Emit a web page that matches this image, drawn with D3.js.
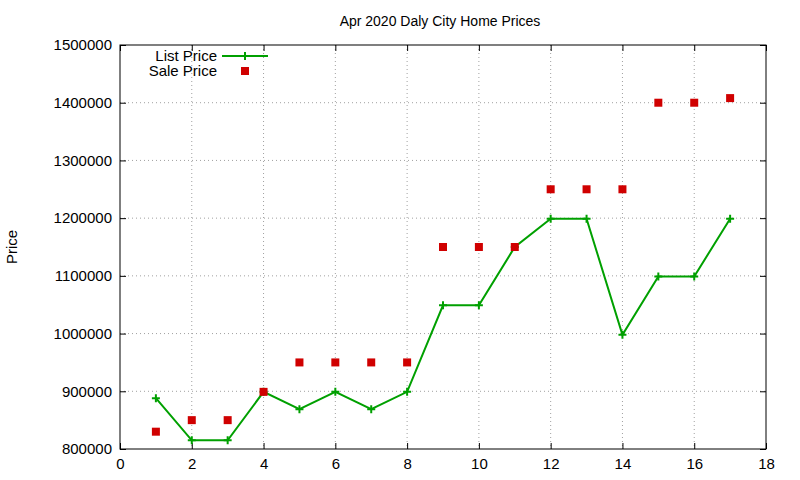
<!DOCTYPE html>
<html><head><meta charset="utf-8">
<script src="https://cdn.jsdelivr.net/npm/d3@7/dist/d3.min.js"></script>
<style>body{margin:0;background:#fff}text{font-family:"Liberation Sans",Arial,sans-serif}</style>
</head><body><svg id="c" width="800" height="480"></svg>
<script>
const xs = [1,2,3,4,5,6,7,8,9,10,11,12,13,14,15,16,17];
const listPrice = [888000,815000,815000,899000,869000,899000,869000,899000,1049000,1049000,1150000,1199000,1199000,998000,1099000,1099000,1199000];
const salePrice = [830000,850000,850000,899000,950000,950000,950000,950000,1150000,1150000,1150000,1250000,1250000,1250000,1400000,1400000,1408000];
const xTicks = [0,2,4,6,8,10,12,14,16,18];
const yTicks = [800000,900000,1000000,1100000,1200000,1300000,1400000,1500000];

const svg = d3.select("#c");
const L=120,R=766,T=45,B=449;
const x = d3.scaleLinear().domain([0,18]).range([L,R]);
const y = d3.scaleLinear().domain([800000,1500000]).range([B,T]);
const g = svg.append("g");
g.selectAll(".gx").data(xTicks.slice(1,-1)).enter().append("line")
 .attr("x1",d=>x(d)).attr("x2",d=>x(d)).attr("y1",T).attr("y2",B)
 .attr("stroke","#a0a0a0").attr("stroke-dasharray","1,3");
g.selectAll(".gy").data(yTicks.slice(1,-1)).enter().append("line")
 .attr("y1",d=>y(d)).attr("y2",d=>y(d)).attr("x1",L).attr("x2",R)
 .attr("stroke","#a0a0a0").attr("stroke-dasharray","1,3");
const ax = svg.append("g").attr("transform",`translate(0,${B})`).call(d3.axisBottom(x).tickValues(xTicks).tickSize(-6).tickPadding(9));
const ax2 = svg.append("g").attr("transform",`translate(0,${T})`).call(d3.axisTop(x).tickValues(xTicks).tickSize(-6).tickFormat(""));
const ay = svg.append("g").attr("transform",`translate(${L},0)`).call(d3.axisLeft(y).tickValues(yTicks).tickSize(-6).tickPadding(8).tickFormat(d3.format("d")));
const ay2 = svg.append("g").attr("transform",`translate(${R},0)`).call(d3.axisRight(y).tickValues(yTicks).tickSize(-6).tickFormat(""));
[ax,ax2,ay,ay2].forEach(a=>{a.select(".domain").remove();a.selectAll("text").attr("font-size",15).attr("fill","#000").style("font-family","Liberation Sans, Arial, sans-serif");});
svg.append("rect").attr("x",L).attr("y",T).attr("width",R-L).attr("height",B-T).attr("fill","none").attr("stroke","#000");
const green="#00a000";
svg.append("path").datum(xs.map((d,i)=>[d,listPrice[i]]))
 .attr("d",d3.line().x(d=>x(d[0])).y(d=>y(d[1]))).attr("fill","none").attr("stroke",green).attr("stroke-width",2);
const plus = (sel,cx,cy)=>sel.append("path").attr("d",`M${cx-4},${cy}H${cx+4}M${cx},${cy-4}V${cy+4}`).attr("stroke",green).attr("stroke-width",2);
xs.forEach((d,i)=>plus(svg,x(d),y(listPrice[i])));
svg.selectAll(".s").data(xs).enter().append("rect")
 .attr("x",(d)=>x(d)-4).attr("y",(d,i)=>y(salePrice[i])-4).attr("width",8).attr("height",8).attr("fill","#d00000");
svg.append("text").attr("x",440).attr("y",26).attr("text-anchor","middle").attr("font-size",14).text("Apr 2020 Daly City Home Prices");
svg.append("text").attr("transform","translate(17,247) rotate(-90)").attr("text-anchor","middle").attr("font-size",15).text("Price");
svg.append("text").attr("x",217).attr("y",61).attr("text-anchor","end").attr("font-size",15).text("List Price");
svg.append("line").attr("x1",222).attr("x2",268).attr("y1",56).attr("y2",56).attr("stroke",green).attr("stroke-width",2);
plus(svg,245,56);
svg.append("text").attr("x",217).attr("y",76).attr("text-anchor","end").attr("font-size",15).text("Sale Price");
svg.append("rect").attr("x",241).attr("y",67).attr("width",8).attr("height",8).attr("fill","#d00000");
</script></body></html>
